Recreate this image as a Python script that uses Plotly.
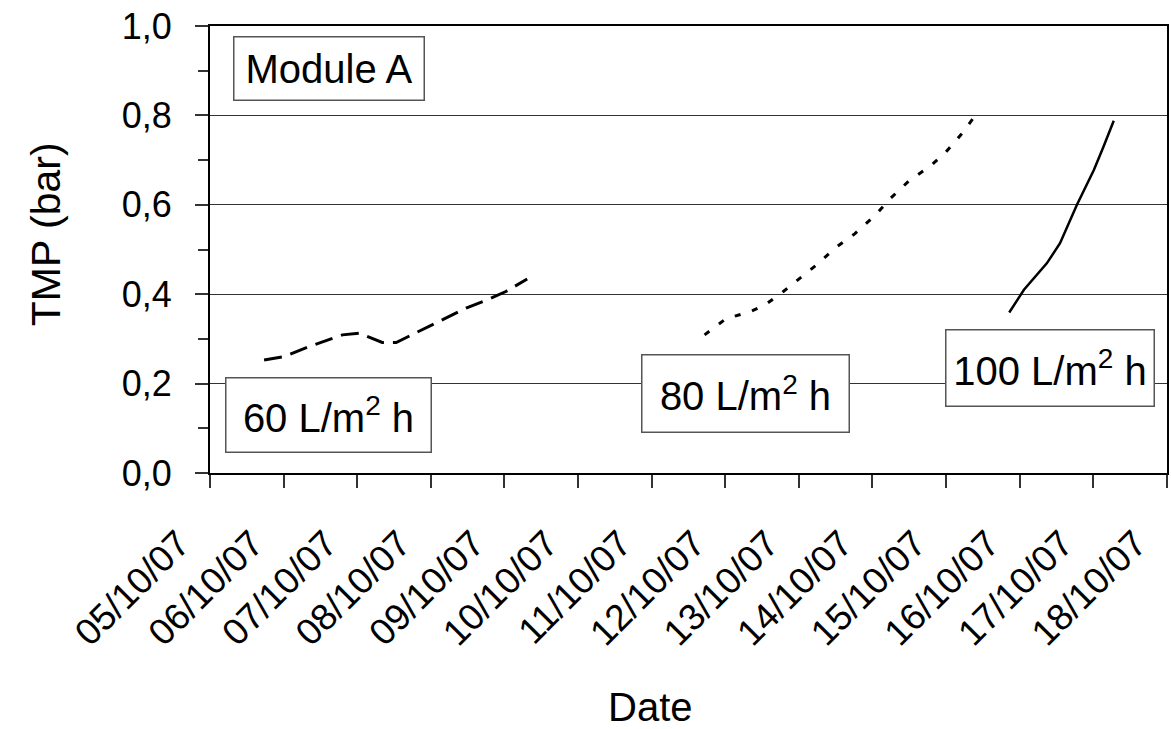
import plotly.graph_objects as go

# ---- data ----
dates_60 = ["2007-10-05 17:38", "2007-10-06 00:00", "2007-10-06 08:24", "2007-10-06 19:12",
            "2007-10-07 00:43", "2007-10-07 08:10", "2007-10-07 12:43", "2007-10-08 00:29",
            "2007-10-08 11:31", "2007-10-08 18:58", "2007-10-09 00:29", "2007-10-09 07:26"]
tmp_60 = [0.253, 0.260, 0.283, 0.309, 0.313, 0.292, 0.292, 0.331, 0.369, 0.389, 0.406, 0.434]

dates_80 = ["2007-10-11 17:17", "2007-10-12 00:14", "2007-10-12 08:10", "2007-10-12 12:58",
            "2007-10-12 18:58", "2007-10-13 00:14", "2007-10-13 06:14", "2007-10-13 12:00",
            "2007-10-13 18:14", "2007-10-14 00:43", "2007-10-14 06:00", "2007-10-14 12:00",
            "2007-10-14 18:58", "2007-10-15 00:00", "2007-10-15 04:48", "2007-10-15 09:36"]
tmp_80 = [0.309, 0.345, 0.361, 0.376, 0.406, 0.436, 0.468, 0.504, 0.535, 0.575,
          0.615, 0.654, 0.687, 0.718, 0.756, 0.800]

dates_100 = ["2007-10-15 20:38", "2007-10-16 01:26", "2007-10-16 08:53", "2007-10-16 13:12",
             "2007-10-16 18:43", "2007-10-17 00:14", "2007-10-17 03:22", "2007-10-17 06:43"]
tmp_100 = [0.359, 0.410, 0.469, 0.514, 0.600, 0.678, 0.730, 0.788]

labels = ["60 L/m<sup>2</sup> h", "80 L/m<sup>2</sup> h", "100 L/m<sup>2</sup> h"]
title_box = "Module A"
x_range = ["2007-10-05", "2007-10-18 00:05"]
y_range = [0, 1.0]

FONT = "Liberation Sans, Arial, sans-serif"

fig = go.Figure()
fig.add_trace(go.Scatter(x=dates_60, y=tmp_60, mode="lines", name=labels[0],
                         line=dict(color="black", width=3, dash="18px,9px")))
fig.add_trace(go.Scatter(x=dates_80, y=tmp_80, mode="lines", name=labels[1],
                         line=dict(color="black", width=3, dash="6px,12px")))
fig.add_trace(go.Scatter(x=dates_100, y=tmp_100, mode="lines", name=labels[2],
                         line=dict(color="black", width=2.5)))

box_style = dict(xref="paper", yref="paper", xanchor="left", yanchor="top",
                 showarrow=False, bgcolor="white", bordercolor="#555555",
                 borderwidth=1.5, borderpad=0, align="center",
                 font=dict(family=FONT, size=40, color="black"))

fig.add_annotation(text=title_box, x=0.024, y=0.978, width=189, height=62, **box_style)
fig.add_annotation(text=labels[0], x=0.0156, y=0.215, width=204, height=73, **box_style)
fig.add_annotation(text=labels[1], x=0.4505, y=0.267, width=206, height=76, **box_style)
fig.add_annotation(text=labels[2], x=0.7685, y=0.3226, width=207, height=75, **box_style)

# axis titles
fig.add_annotation(text="Date", xref="paper", yref="paper", x=0.46, y=-0.5225,
                   xanchor="center", yanchor="middle", showarrow=False,
                   font=dict(family=FONT, size=40, color="black"))
fig.add_annotation(text="TMP (bar)", xref="paper", yref="paper", x=-0.171, y=0.535,
                   xanchor="center", yanchor="middle", showarrow=False, textangle=-90,
                   font=dict(family=FONT, size=41, color="black"))

fig.update_layout(
    width=1171, height=729,
    margin=dict(l=210, r=2, t=26, b=256),
    paper_bgcolor="white", plot_bgcolor="white",
    showlegend=False,
    separators=", ",
    font=dict(family=FONT, size=36, color="black"),
)
fig.update_xaxes(
    type="date", range=x_range, dtick=86400000, tick0="2007-10-05",
    tickformat="%d/%m/%y", tickangle=-45,
    ticks="outside", ticklen=13, tickwidth=1.5, tickcolor="#333333",
    showgrid=False, zeroline=False,
    showline=True, linecolor="black", linewidth=2, mirror=True,
    tickfont=dict(family=FONT, size=37, color="black"),
    ticklabelstandoff=19, ticklabelshift=-31,
)
fig.update_yaxes(
    range=y_range, dtick=0.2, tick0=0, tickformat=".1f",
    ticks="outside", ticklen=13, tickwidth=1.5, tickcolor="#333333",
    minor=dict(dtick=0.1, ticks="outside", ticklen=10, tickwidth=1.5,
               tickcolor="#333333", showgrid=False),
    showgrid=True, gridcolor="#333333", gridwidth=1.2,
    zeroline=False,
    showline=True, linecolor="black", linewidth=2, mirror=True,
    tickfont=dict(family=FONT, size=36, color="black"),
    ticklabelstandoff=16,
)

fig.write_html("out.html")
